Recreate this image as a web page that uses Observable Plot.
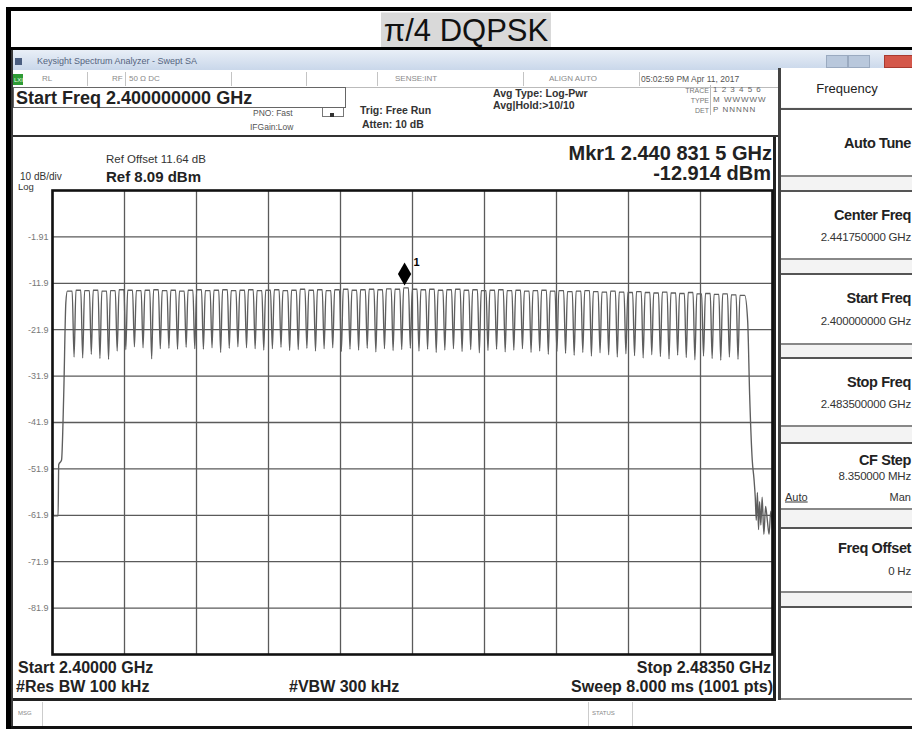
<!DOCTYPE html>
<html><head><meta charset="utf-8">
<script src="https://cdn.jsdelivr.net/npm/d3@7"></script>
<script src="https://cdn.jsdelivr.net/npm/@observablehq/plot@0.6"></script>
<style>
body{margin:0;background:#fff;}
#page{position:relative;width:912px;height:729px;overflow:hidden;background:#fff;font-family:"Liberation Sans",Arial,sans-serif;}
.a{position:absolute;white-space:nowrap;}
.t{position:absolute;white-space:nowrap;line-height:1;}
</style></head>
<body><div id="page"></div>
<script>
// ---- data ----
const startMHz = 2400.0, stopMHz = 2483.5;
const refLevel = 8.09, dbPerDiv = 10;
const yTickValues = [-1.91, -11.91, -21.91, -31.91, -41.91, -51.91, -61.91, -71.91, -81.91];
const yTickLabels = ["-1.91", "-11.9", "-21.9", "-31.9", "-41.9", "-51.9", "-61.9", "-71.9", "-81.9"];
const xGridMHz = [2400, 2408.35, 2416.7, 2425.05, 2433.4, 2441.75, 2450.1, 2458.45, 2466.8, 2475.15, 2483.5];
const channelsMHz = d3.range(2402, 2481); // 79 hopping channels
const channelTops = [
 -13.6,-13.4,-13.5,-13.4,-13.6,-13.5,-13.3,-13.4,-13.5,-13.4,
 -13.3,-13.5,-13.4,-13.6,-13.4,-13.3,-13.5,-13.4,-13.3,-13.5,
 -13.4,-13.3,-13.5,-13.4,-13.3,-13.5,-13.4,-13.2,-13.4,-13.3,
 -13.5,-13.3,-13.2,-13.4,-13.3,-13.2,-13.3,-13.1,-13.2,-12.9,
 -13.2,-13.3,-13.2,-13.4,-13.3,-13.2,-13.4,-13.3,-13.5,-13.4,
 -13.3,-13.5,-13.4,-13.6,-13.5,-13.4,-13.6,-13.5,-13.7,-13.6,
 -13.5,-13.7,-13.8,-13.6,-13.8,-13.9,-13.7,-13.9,-14.0,-13.8,
 -14.0,-14.1,-13.9,-14.2,-14.1,-14.3,-14.2,-14.4,-14.5];
const channelDips = [
 -27.8,-28.0,-27.2,-28.1,-28.3,-26.5,-26.2,-25.6,-25.8,-28.2,
 -26.0,-25.9,-26.1,-25.7,-26.0,-26.1,-25.8,-26.8,-25.9,-25.6,
 -25.8,-26.0,-26.3,-26.0,-25.7,-26.4,-26.2,-25.9,-26.5,-26.0,
 -25.8,-26.6,-26.1,-26.3,-25.9,-26.7,-26.0,-26.4,-26.2,-25.9,
 -26.5,-26.1,-26.8,-26.3,-26.0,-26.6,-26.2,-26.9,-26.4,-26.1,
 -26.7,-26.3,-26.0,-26.8,-26.5,-27.2,-26.6,-27.0,-27.4,-26.8,
 -27.6,-26.9,-27.3,-27.8,-27.1,-27.5,-28.0,-27.3,-27.7,-28.2,
 -27.4,-27.9,-28.4,-27.6,-28.1,-28.5,-27.8,-28.3];
const leftEdgeMHz = [2400.0, 2400.1, 2400.65, 2400.72, 2401.05, 2401.3, 2401.55];
const leftEdgeDbm = [-53, -62, -62, -51, -50, -36, -16];
const rightEdgeMHz = [2480.62, 2480.85, 2481.15, 2481.35, 2481.5, 2481.62, 2481.75, 2481.88, 2482.0, 2482.15, 2482.3, 2482.5, 2482.7, 2482.9, 2483.1, 2483.3, 2483.5];
const rightEdgeDbm = [-20, -36, -50, -54, -58, -63, -57, -65, -59, -64, -58, -66, -60, -63, -66, -61, -65];
const shoulderMHz = 0.28;
const marker = {f: 2440.8315, level: -12.914, label: "1"};

// ---- build trace table from the arrays ----
const trace = [];
leftEdgeMHz.forEach((f, i) => trace.push({f, level: leftEdgeDbm[i]}));
channelsMHz.forEach((c, i) => {
  if (i > 0) trace.push({f: c - 0.5, level: channelDips[i - 1]});
  trace.push({f: c - shoulderMHz, level: channelTops[i]});
  trace.push({f: c + shoulderMHz, level: channelTops[i]});
});
rightEdgeMHz.forEach((f, i) => trace.push({f, level: rightEdgeDbm[i]}));
const tickLabel = new Map(yTickValues.map((v, i) => [v, yTickLabels[i]]));

const page = document.getElementById("page");
function box(x, y, w, h, style) {
  const d = document.createElement("div"); d.className = "a";
  d.style.cssText = `left:${x}px;top:${y}px;width:${w}px;height:${h}px;` + (style || "");
  page.appendChild(d); return d;
}
function txt(x, y, s, style, align) {
  const d = document.createElement("div"); d.className = "t"; d.textContent = s;
  d.style.cssText = style || "";
  d.style.top = y + "px";
  if (align === "right") d.style.right = (912 - x) + "px"; else d.style.left = x + "px";
  if (!d.style.transform) d.style.transform = "translateY(-50%)";
  page.appendChild(d); return d;
}

// ---- outer frame & title ----
box(6, 7, 906, 4, "background:#000");
box(6, 7, 5, 722, "background:#000");
txt(381, 30, "π/4 DQPSK", "font-size:31px;background:#d9d9d9;padding:2px 0;width:170px;text-align:center;color:#111;");
box(11, 47, 901, 3, "background:#000");
box(11, 50, 2, 679, "background:#3a3a3a");

// window title bar
box(13, 50, 899, 20, "background:linear-gradient(#e9eff7,#c9d7ea)");
box(15, 58, 7, 7, "background:#4b5e80");
txt(37, 61, "Keysight Spectrum Analyzer - Swept SA", "font-size:9px;color:#55647e;");
box(826, 55, 20, 11, "background:#b9c8dc;border:1px solid #9aaac0");
box(848, 55, 20, 11, "background:#b9c8dc;border:1px solid #9aaac0");
box(884, 55, 28, 11, "background:#d4574a;border:1px solid #a83a30");

// status row
box(13, 71, 765, 16, "background:#fff;border-bottom:1px solid #bbb");
box(13, 74, 10, 11, "background:#2e9b34");
txt(14, 79.5, "LXI", "font-size:6px;color:#eaffea;");
[87, 125, 231, 306, 377, 523, 639].forEach(x => box(x, 72, 1, 14, "background:#c4c4c4"));
const st = "font-size:8px;color:#8a8a8a;";
txt(42, 79, "RL", st); txt(112, 79, "RF", st); txt(129, 79, "50 Ω   DC", st);
txt(395, 79, "SENSE:INT", st); txt(549, 79, "ALIGN AUTO", st);
txt(641, 79, "05:02:59 PM Apr 11, 2017", "font-size:8.5px;color:#555;");

// header area
box(13, 87, 331, 19, "border:1px solid #666;background:#fff");
txt(16, 97.5, "Start Freq 2.400000000 GHz", "font-size:18px;font-weight:bold;color:#222;");
const sm = "font-size:8.5px;color:#555;";
txt(253, 113, "PNO: Fast", sm); txt(250, 127, "IFGain:Low", sm);
box(322, 108, 20, 8, "border:1px solid #777;border-top:none");
box(330, 113, 4, 4, "background:#333");
const hb = "font-size:10.5px;font-weight:bold;color:#333;";
txt(360, 110, "Trig: Free Run", hb); txt(362, 124, "Atten: 10 dB", hb);
txt(493, 93, "Avg Type: Log-Pwr", hb); txt(493, 105, "Avg|Hold:>10/10", hb);
const tr = "font-size:7px;color:#777;";
txt(709, 90, "TRACE", tr, "right"); txt(709, 100, "TYPE", tr, "right"); txt(709, 110, "DET", tr, "right");
box(710, 85, 1, 30, "background:#bbb");
const tv = "font-size:8px;color:#666;letter-spacing:1px;";
txt(713, 90, "1 2 3 4 5 6", tv); txt(713, 100, "M WWWWW", tv); txt(713, 110, "P NNNNN", tv);
box(13, 135, 765, 2, "background:#333");

// plot header texts
txt(106, 160, "Ref Offset 11.64 dB", "font-size:11.5px;color:#333;");
txt(106, 176, "Ref 8.09 dBm", "font-size:15px;font-weight:bold;color:#222;");
txt(20, 177, "10 dB/div", "font-size:10px;color:#333;");
txt(18, 186.5, "Log", "font-size:9.5px;color:#333;");
txt(772, 153, "Mkr1 2.440 831 5 GHz", "font-size:20px;font-weight:bold;color:#222;", "right");
txt(771, 173, "-12.914 dBm", "font-size:20px;font-weight:bold;color:#222;", "right");

// bottom texts
const bt = "font-size:16px;font-weight:bold;color:#222;";
txt(18, 668, "Start 2.40000 GHz", bt);
txt(16, 687, "#Res BW 100 kHz", bt);
txt(289, 687, "#VBW 300 kHz", bt);
txt(771, 668, "Stop 2.48350 GHz", bt, "right");
txt(773, 687, "Sweep  8.000 ms (1001 pts)", bt, "right");
box(13, 698, 762, 3, "background:#222");
box(13, 701, 899, 26, "background:#fff");
box(42, 702, 1, 24, "background:#ccc");
txt(18, 713, "MSG", "font-size:6px;color:#888;");
box(588, 702, 1, 24, "background:#ccc"); box(632, 702, 1, 24, "background:#ccc");
txt(592, 713, "STATUS", "font-size:6px;color:#888;");
box(11, 726, 901, 3, "background:#111");

// right panel
box(773, 137, 3, 564, "background:#222");
box(778, 68, 3, 632, "background:#444");
box(781, 68, 131, 39, "background:#fff;border-bottom:1px solid #888");
txt(847, 88, "Frequency", "font-size:13px;color:#222;transform:translate(-50%,-50%)");
const buttons = [
  {y: 108, h: 69, title: "Auto Tune", ty: 143},
  {y: 190, h: 70, title: "Center Freq", ty: 215, value: "2.441750000 GHz", vy: 238},
  {y: 273, h: 72, title: "Start Freq", ty: 298, value: "2.400000000 GHz", vy: 322},
  {y: 357, h: 70, title: "Stop Freq", ty: 382, value: "2.483500000 GHz", vy: 405},
  {y: 442, h: 68, title: "CF Step", ty: 460, value: "8.350000 MHz", vy: 477},
  {y: 527, h: 66, title: "Freq Offset", ty: 548, value: "0 Hz", vy: 572},
  {y: 606, h: 94}
];
box(781, 107, 131, 593, "background:#f3f3f3");
buttons.forEach(b => {
  box(781, b.y, 131, b.h, "background:#fff;border-top:2px solid #555;border-bottom:2px solid #888;box-sizing:border-box;");
  if (b.title) txt(911, b.ty, b.title, "font-size:14.5px;font-weight:bold;color:#222;letter-spacing:-0.4px;", "right");
  if (b.value) txt(911, b.vy, b.value, "font-size:11.5px;color:#333;letter-spacing:-0.2px;", "right");
});
txt(785, 497, "Auto", "font-size:11px;color:#333;text-decoration:underline;");
txt(911, 497, "Man", "font-size:11px;color:#333;", "right");

// ---- the chart ----
const chart = Plot.plot({
  width: 790, height: 484,
  marginLeft: 52, marginRight: 18, marginTop: 10, marginBottom: 10,
  style: {background: "transparent", fontFamily: "Liberation Sans, Arial, sans-serif"},
  x: {domain: [startMHz, stopMHz], axis: null, label: null},
  y: {domain: [refLevel - 10 * dbPerDiv, refLevel], axis: null, label: null},
  marks: [
    Plot.ruleX(xGridMHz, {stroke: "#5a5a5a", strokeWidth: 1.3}),
    Plot.ruleY(yTickValues, {stroke: "#5a5a5a", strokeWidth: 1.3}),
    Plot.axisY(yTickValues, {tickSize: 0, tickPadding: 4, fontSize: 9, color: "#777", label: null, tickFormat: d => tickLabel.get(d)}),
    Plot.line(trace, {x: "f", y: "level", stroke: "#5e5e5e", strokeWidth: 1.35, curve: "monotone-x"}),
    Plot.dot([marker], {x: "f", y: "level", symbol: "diamond", r: 7, fill: "#000", stroke: "none", dy: -14}),
    Plot.text([marker], {x: "f", y: "level", text: "label", dx: 12, dy: -25, fontSize: 11, fontWeight: "bold", fill: "#000"}),
    Plot.frame({stroke: "#111", strokeWidth: 2.6})
  ]
});
chart.style.position = "absolute";
chart.style.left = "0px";
chart.style.top = "180px";
page.appendChild(chart);
</script></body></html>
